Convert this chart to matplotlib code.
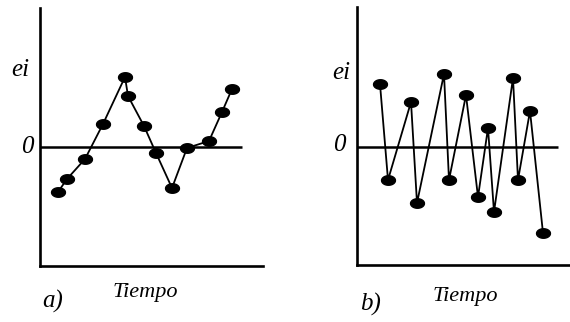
import matplotlib
matplotlib.use("Agg")
import matplotlib.pyplot as plt
import numpy as np
from matplotlib.path import Path

# residuos ei contra el tiempo
t_a = [1.8, 2.7, 4.5, 6.3, 8.5, 8.8, 10.4, 11.6, 13.2, 14.7, 16.9, 18.2, 19.2]
e_a = [-4.5, -3.2, -1.2, 2.3, 7.0, 5.1, 2.1, -0.6, -4.1, -0.1, 0.6, 3.5, 5.8]

t_b = [2.3, 3.1, 5.4, 6.0, 8.7, 9.2, 10.9, 12.1, 13.1, 13.7, 15.6, 16.1, 17.3, 18.6]
e_b = [6.3, -3.3, 4.5, -5.6, 7.3, -3.3, 5.2, -5.0, 1.9, -6.5, 6.9, -3.3, 3.6, -8.6]

W, H = 570, 322

# marcador eliptico (mas ancho que alto)
ang = np.linspace(0, 2 * np.pi, 60)
oval = Path(np.column_stack([0.7 * np.cos(ang), 0.48 * np.sin(ang)]))

fig = plt.figure(figsize=(W / 100, H / 100), dpi=100)
fig.patch.set_facecolor("white")

font = dict(family="Liberation Serif", style="italic", color="black")


def panel(left, right, top, bottom, zero_end, t, e):
    ax = fig.add_axes([left / W, 1 - bottom / H, (right - left) / W, (bottom - top) / H])
    ax.set_xlim(0, (right - left) / 10)
    ax.set_ylim(-(bottom - 147) / 10, (147 - top) / 10)
    for s in ["top", "right"]:
        ax.spines[s].set_visible(False)
    for s in ["left", "bottom"]:
        ax.spines[s].set_linewidth(1.9)
    ax.set_xticks([])
    ax.set_yticks([])
    ax.patch.set_alpha(0)
    ax.plot([0, zero_end], [0, 0], color="black", lw=1.8, solid_capstyle="butt")
    ax.plot(t, e, color="black", lw=1.3, marker=oval, markersize=10,
            markerfacecolor="black", markeredgecolor="black", clip_on=False)
    return ax


panel(40, 263, 8, 266, 20.2, t_a, e_a)
panel(357, 570, 7, 265, 20.1, t_b, e_b)


def label(x, y, s, size):
    fig.text(x / W, 1 - y / H, s, ha="center", va="center", fontsize=size, **font)


label(20, 70, "ei", 18)
label(27, 147, "0", 18)
label(145, 292, "Tiempo", 16)
label(53, 301, "a)", 18)

label(341, 73, "ei", 18)
label(339, 145, "0", 18)
label(465, 297, "Tiempo", 16)
label(371, 304, "b)", 18)

fig.savefig("out.png", dpi=100)
